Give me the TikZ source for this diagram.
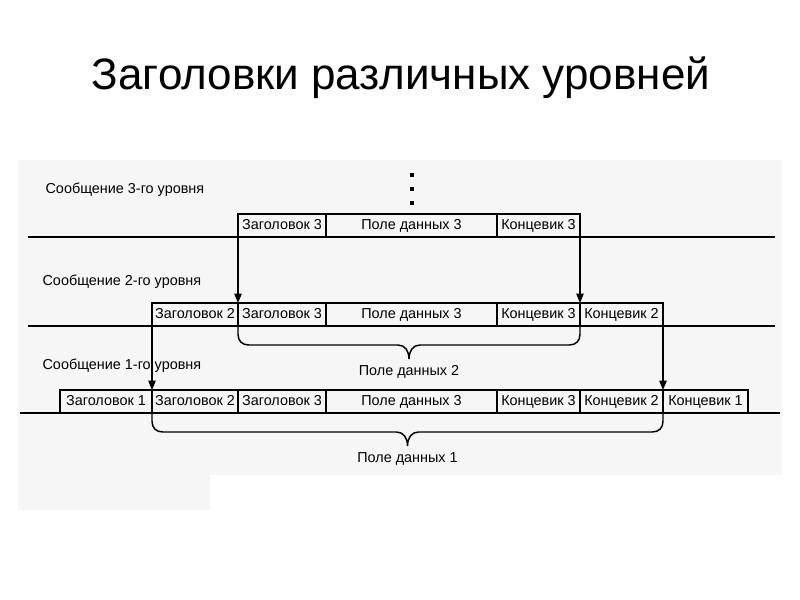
\documentclass[tikz,border=0pt]{standalone}
\usepackage{fontspec}
\setmainfont{Liberation Sans}
\newfontfamily\headfont{Liberation Sans}
\usetikzlibrary{positioning, arrows.meta, calc}
\definecolor{scanGray}{HTML}{F6F6F6}
% brace under a data field: left end, right end, label name, label text
\newcommand{\databrace}[4]{%
  \draw[brc] (#1) -- ++(0,8) .. controls +(0,7) and +(-7,0) .. ++(11,11)
    -- ($(#1)!0.5!(#2)+(-11,19)$) .. controls +(7,0) and +(0,-8) .. ($(#1)!0.5!(#2)+(0,33)$)
    .. controls +(0,-8) and +(-7,0) .. ($(#1)!0.5!(#2)+(11,19)$)
    -- ($(#2)+(-11,19)$) .. controls +(7,0) and +(0,7) .. ($(#2)+(0,8)$) -- (#2);
  \node[lbl, anchor=north] (#3) at ($(#1)!0.5!(#2)+(0,37)$) {#4};}

\begin{document}
\begin{tikzpicture}[x=0.75pt, y=-0.75pt, >={Triangle[length=7pt,width=5.5pt]},
      font=\fontsize{10.8}{12}\selectfont,
      fld/.style={draw, line width=1.1pt, minimum width=#1, minimum height=17.25pt,
        text height=7.8pt, text depth=2.2pt, inner sep=0pt, outer sep=0pt},
      lbl/.style={inner sep=1pt, text height=7.8pt, text depth=2.2pt},
      net/.style={line width=1.5pt},
      arr/.style={->, line width=1pt},
      brc/.style={line width=1.1pt}]
      \useasboundingbox (0,0) rectangle (800,600);
      \fill[scanGray] (18,160) rectangle (782,510);
      \fill[white] (210,475) rectangle (782,510);
      \node[font=\headfont\fontsize{33}{38}\selectfont] (title) at (401,78) {Заголовки различных уровней};

      % network lines
      \draw[net] (28,237) -- (775,237);
      \draw[net] (28,326) -- (775,326);
      \draw[net] (20,413) -- (780,413);

      % level 3
      \node[lbl, anchor=west] (m3) at (44,190) {Сообщение 3-го уровня};
      \node[fld=66pt, anchor=south west] (aH3) at (238,237) {Заголовок 3};
      \node[fld=128.25pt, right=0pt of aH3] (aD3) {Поле данных 3};
      \node[fld=62.25pt, right=0pt of aD3] (aT3) {Концевик 3};
      \foreach \y in {175,189,203} \fill (409.5,\y-2) rectangle (413.5,\y+2);

      % level 2
      \node[lbl, anchor=west] (m2) at (41,282) {Сообщение 2-го уровня};
      \node[fld=64.5pt, anchor=south west] (bH2) at (152,326) {Заголовок 2};
      \node[fld=66pt, right=0pt of bH2] (bH3) {Заголовок 3};
      \node[fld=128.25pt, right=0pt of bH3] (bD3) {Поле данных 3};
      \node[fld=62.25pt, right=0pt of bD3] (bT3) {Концевик 3};
      \node[fld=62.25pt, right=0pt of bT3] (bT2) {Концевик 2};

      % level 1
      \node[lbl, anchor=west] (m1) at (41,366) {Сообщение 1-го уровня};
      \node[fld=69pt, anchor=south west] (cH1) at (60,413) {Заголовок 1};
      \node[fld=64.5pt, right=0pt of cH1] (cH2) {Заголовок 2};
      \node[fld=66pt, right=0pt of cH2] (cH3) {Заголовок 3};
      \node[fld=128.25pt, right=0pt of cH3] (cD3) {Поле данных 3};
      \node[fld=62.25pt, right=0pt of cD3] (cT3) {Концевик 3};
      \node[fld=62.25pt, right=0pt of cT3] (cT2) {Концевик 2};
      \node[fld=63.75pt, right=0pt of cT2] (cT1) {Концевик 1};

      \draw[arr] (aH3.south west) -- (bH3.north west);
      \draw[arr] (aT3.south east) -- (bT3.north east);
      \draw[arr] (bH2.south west) -- (cH2.north west);
      \draw[arr] (bT2.south east) -- (cT2.north east);

      \databrace{bH3.south west}{bT3.south east}{pd2}{Поле данных 2}
      \databrace{cH2.south west}{cT2.south east}{pd1}{Поле данных 1}
    \end{tikzpicture}
\end{document}
